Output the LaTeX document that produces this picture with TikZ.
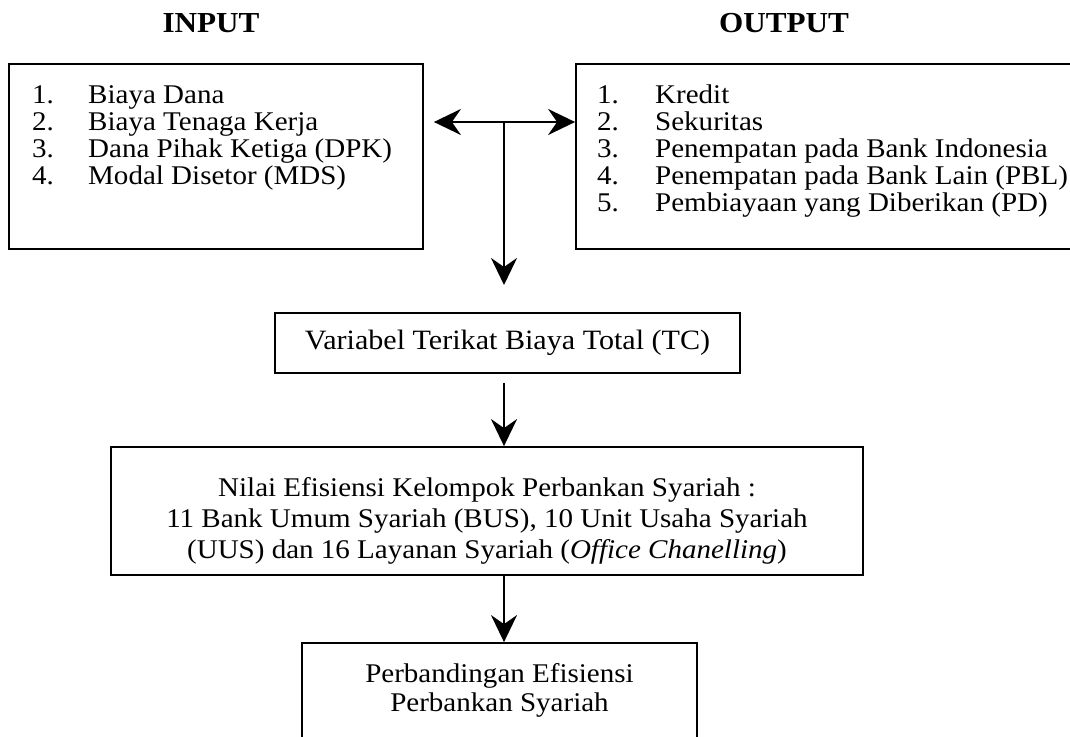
\documentclass[tikz,border=0pt]{standalone}
\usepackage{fontspec}
\setmainfont{Liberation Serif}[FakeStretch=1.075]
\usetikzlibrary{arrows.meta,calc}
\begin{document}
\begin{tikzpicture}[x=1pt,y=-1pt,
  box/.style={draw,line width=1.8pt,rectangle,inner sep=0pt},
  txt/.style={font=\fontsize{27}{27}\selectfont,inner sep=0pt},
  ttl/.style={font=\fontsize{29}{29}\selectfont\bfseries,inner sep=0pt,anchor=base},
  item/.style={txt,anchor=base west},
  conn/.style={line width=2.6pt,-{Stealth[length=27pt,width=26pt,inset=9pt]}}]
\useasboundingbox (0,0) rectangle (1070,736);

% titles
\node[ttl] (tin) at (211,32) {INPUT};
\node[ttl] (tout) at (784,32) {OUTPUT};

% boxes
\node[box,minimum width=414pt,minimum height=185pt] (inbox) at (216,156.5) {};
\node[box,minimum width=520pt,minimum height=185pt] (outbox) at (836,156.5) {};
\node[box,minimum width=465pt,minimum height=60pt,font=\fontsize{28}{28}\selectfont] (tcbox) at (507.5,343)
  {Variabel Terikat Biaya Total (TC)};
\node[box,minimum width=752pt,minimum height=128pt] (nbox) at (487,511) {};
\node[txt,align=center,font=\fontsize{27}{31}\selectfont] (ntext) at (487,521)
  {Nilai Efisiensi Kelompok Perbankan Syariah :\\
   11 Bank Umum Syariah (BUS), 10 Unit Usaha Syariah\\
   (UUS) dan 16 Layanan Syariah (\textit{Office Chanelling})};
\node[box,minimum width=395pt,minimum height=110pt] (pbox) at (499.5,698) {};
\node[txt,align=center,font=\fontsize{27}{29}\selectfont] (ptext) at (499.5,690)
  {Perbandingan Efisiensi\\Perbankan Syariah};

% input list
\node[item] (i1) at (32,103) {\makebox[56pt][l]{1.}Biaya Dana};
\node[item] (i2) at (32,130) {\makebox[56pt][l]{2.}Biaya Tenaga Kerja};
\node[item] (i3) at (32,157) {\makebox[56pt][l]{3.}Dana Pihak Ketiga (DPK)};
\node[item] (i4) at (32,184) {\makebox[56pt][l]{4.}Modal Disetor (MDS)};

% output list
\node[item] (o1) at (597,103) {\makebox[58pt][l]{1.}Kredit};
\node[item] (o2) at (597,130) {\makebox[58pt][l]{2.}Sekuritas};
\node[item] (o3) at (597,157) {\makebox[58pt][l]{3.}Penempatan pada Bank Indonesia};
\node[item] (o4) at (597,184) {\makebox[58pt][l]{4.}Penempatan pada Bank Lain (PBL)};
\node[item] (o5) at (597,211) {\makebox[58pt][l]{5.}Pembiayaan yang Diberikan (PD)};

% connectors
\coordinate (j) at (504,122);
\coordinate (jd) at (504,285);
\draw[conn,shorten >=10pt] (j) -- (inbox.east |- j);
\draw[conn] (j) -- (outbox.west |- j);
\draw[conn] (j) -- (jd);
\draw[conn,shorten <=9pt] (tcbox.south -| j) -- (nbox.north -| j);
\draw[conn] (nbox.south -| j) -- (pbox.north -| j);
\end{tikzpicture}
\end{document}
